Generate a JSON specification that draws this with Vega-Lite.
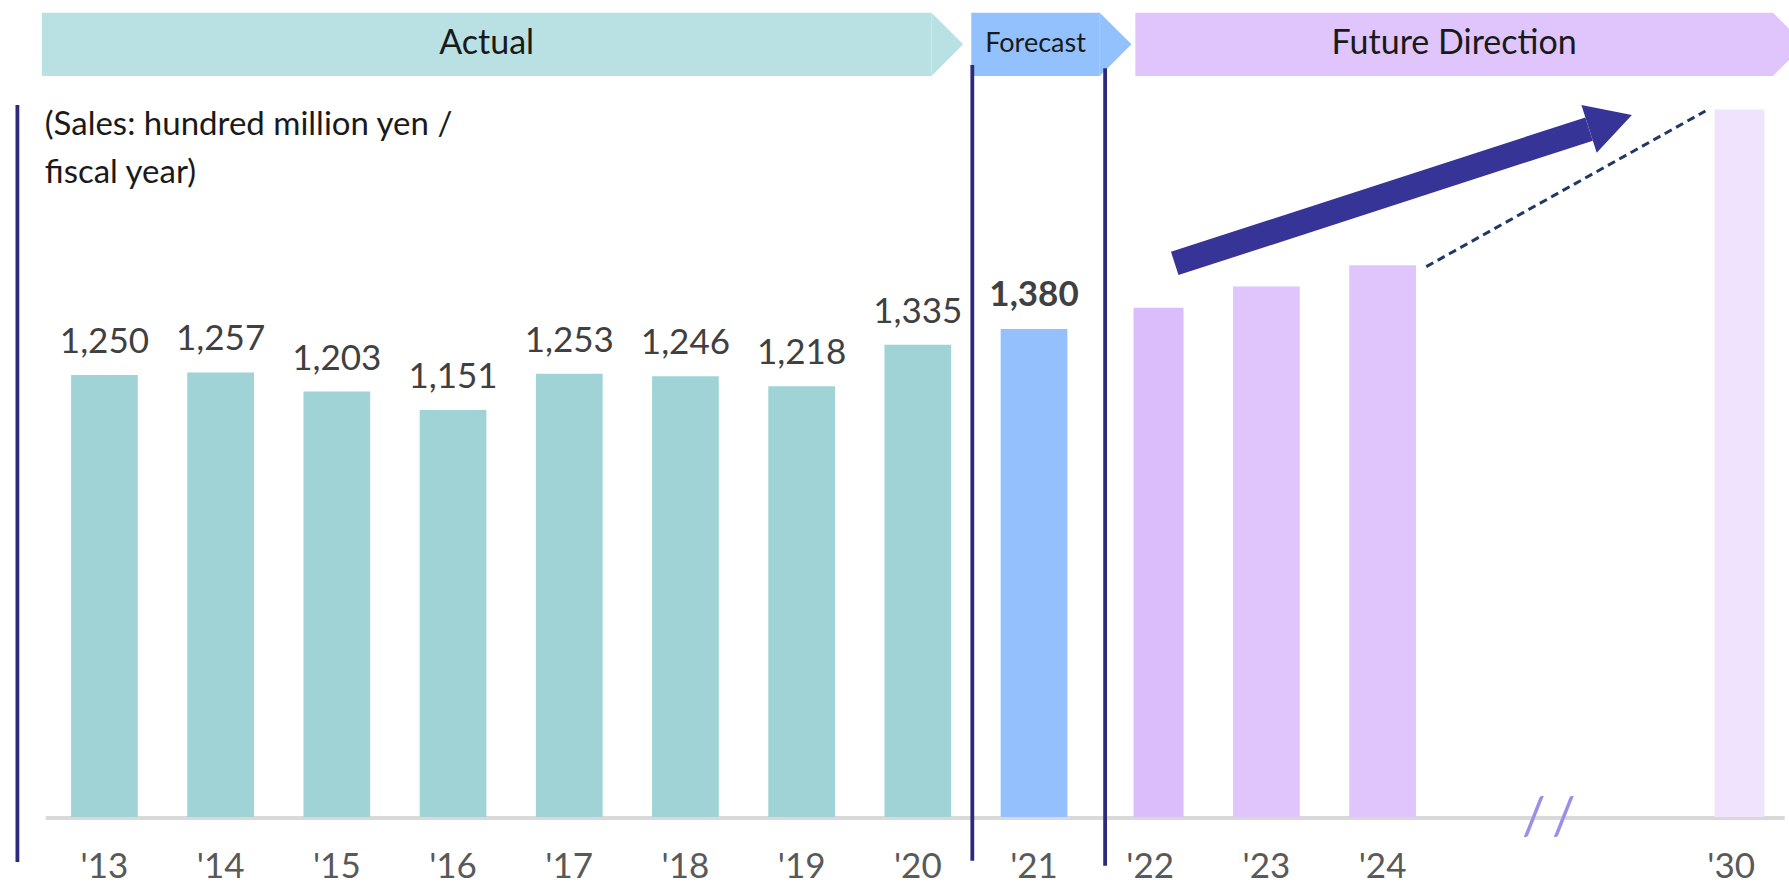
{
  "$schema": "https://vega.github.io/schema/vega-lite/v6.json",
  "width": 1789,
  "height": 890,
  "autosize": "none",
  "padding": 0,
  "background": "white",
  "config": {"view": {"stroke": null}, "font": "Lato"},
  "datasets": {
    "sales": [
      {"year": "'13", "slot": 0, "sales": 1250},
      {"year": "'14", "slot": 1, "sales": 1257},
      {"year": "'15", "slot": 2, "sales": 1203},
      {"year": "'16", "slot": 3, "sales": 1151},
      {"year": "'17", "slot": 4, "sales": 1253},
      {"year": "'18", "slot": 5, "sales": 1246},
      {"year": "'19", "slot": 6, "sales": 1218},
      {"year": "'20", "slot": 7, "sales": 1335},
      {"year": "'21", "slot": 8, "sales": 1380},
      {"year": "'22", "slot": 9, "sales": 1440},
      {"year": "'23", "slot": 10, "sales": 1500},
      {"year": "'24", "slot": 11, "sales": 1560},
      {"year": "'30", "slot": 14, "sales": 2000}
    ],
    "phases": [
      {"phase": "Actual", "from": -0.539, "to": 7.118},
      {"phase": "Forecast", "from": 7.46, "to": 8.566},
      {"phase": "Future Direction", "from": 8.872, "to": 14.36}
    ],
    "dividers": [
      {"x": -0.749, "top": 2013, "bottom": -127},
      {"x": 7.469, "top": 2126, "bottom": -124},
      {"x": 8.612, "top": 2117, "bottom": -138}
    ],
    "trend": [{"x": 9.211, "y": 1565, "xe": 12.777, "ye": 1945, "hx": 12.961, "hy": 1965}],
    "extension": [{"x": 11.376, "y": 1556, "xe": 13.778, "ye": 1996}]
  },
  "resolve": {"scale": {"color": "independent"}},
  "layer": [
    {
      "data": {"name": "phases"},
      "mark": {"type": "rect"},
      "encoding": {
        "x": {"field": "from", "type": "quantitative", "scale": {"domain": [-0.8558, 14.4544], "nice": false, "zero": false}, "axis": null},
        "x2": {"field": "to"},
        "y": {"datum": 2274, "type": "quantitative", "scale": {"domain": [-206.4, 2309.9], "nice": false, "zero": false}, "axis": null},
        "y2": {"datum": 2095},
        "color": {"field": "phase", "type": "nominal", "scale": {"domain": ["Actual", "Forecast", "Future Direction"], "range": ["#b9e0e3", "#93c1fd", "#dfc5fc"]}, "legend": null}
      }
    },
    {
      "data": {"name": "phases"},
      "mark": {"type": "point", "shape": "M0,-1L1,0L0,1Z", "filled": true, "opacity": 1, "size": 4007, "strokeWidth": 0},
      "encoding": {
        "x": {"field": "to", "type": "quantitative", "scale": {"domain": [-0.8558, 14.4544], "nice": false, "zero": false}, "axis": null},
        "y": {"datum": 2184.5, "type": "quantitative", "scale": {"domain": [-206.4, 2309.9], "nice": false, "zero": false}, "axis": null},
        "color": {"field": "phase", "type": "nominal", "scale": {"domain": ["Actual", "Forecast", "Future Direction"], "range": ["#b9e0e3", "#93c1fd", "#dfc5fc"]}, "legend": null}
      }
    },
    {
      "data": {"name": "phases"},
      "transform": [
        {"filter": "datum.phase != 'Forecast'"},
        {"fold": ["from", "to"], "as": ["edge", "pos"]},
        {"aggregate": [{"op": "mean", "field": "pos", "as": "mid"}], "groupby": ["phase"]}
      ],
      "mark": {"type": "text", "fontSize": 34, "color": "#1a1a1a", "align": "center", "baseline": "middle"},
      "encoding": {
        "x": {"field": "mid", "type": "quantitative", "scale": {"domain": [-0.8558, 14.4544], "nice": false, "zero": false}, "axis": null},
        "y": {"datum": 2184.5, "type": "quantitative", "scale": {"domain": [-206.4, 2309.9], "nice": false, "zero": false}, "axis": null},
        "text": {"field": "phase"}
      }
    },
    {
      "data": {"name": "phases"},
      "transform": [
        {"filter": "datum.phase == 'Forecast'"},
        {"fold": ["from", "to"], "as": ["edge", "pos"]},
        {"aggregate": [{"op": "mean", "field": "pos", "as": "mid"}], "groupby": ["phase"]}
      ],
      "mark": {"type": "text", "fontSize": 27, "color": "#1a1a1a", "align": "center", "baseline": "middle"},
      "encoding": {
        "x": {"field": "mid", "type": "quantitative", "scale": {"domain": [-0.8558, 14.4544], "nice": false, "zero": false}, "axis": null},
        "y": {"datum": 2184.5, "type": "quantitative", "scale": {"domain": [-206.4, 2309.9], "nice": false, "zero": false}, "axis": null},
        "text": {"field": "phase"}
      }
    },
    {
      "data": {"values": [{}]},
      "mark": {"type": "rule", "color": "#d9d9d9", "strokeWidth": 4},
      "encoding": {
        "x": {"datum": -0.505, "type": "quantitative", "scale": {"domain": [-0.8558, 14.4544], "nice": false, "zero": false}, "axis": null},
        "x2": {"datum": 14.46},
        "y": {"datum": -3, "type": "quantitative", "scale": {"domain": [-206.4, 2309.9], "nice": false, "zero": false}, "axis": null}
      }
    },
    {
      "data": {"name": "sales"},
      "transform": [{"filter": {"not": {"field": "year", "oneOf": ["'22", "'30"]}}}],
      "mark": {"type": "bar", "width": 66.7, "opacity": 1},
      "encoding": {
        "x": {"field": "slot", "type": "quantitative", "scale": {"domain": [-0.8558, 14.4544], "nice": false, "zero": false}, "axis": null},
        "y": {"field": "sales", "type": "quantitative", "scale": {"domain": [-206.4, 2309.9], "nice": false, "zero": false}, "axis": null},
        "color": {"field": "year", "type": "nominal", "scale": {"domain": ["'13", "'14", "'15", "'16", "'17", "'18", "'19", "'20", "'21", "'22", "'23", "'24", "'30"], "range": ["#9fd3d6", "#9fd3d6", "#9fd3d6", "#9fd3d6", "#9fd3d6", "#9fd3d6", "#9fd3d6", "#9fd3d6", "#94c1fd", "#d9bafb", "#e0c4fc", "#e0c4fc", "#efe3fd"]}, "legend": null}
      }
    },
    {
      "data": {"name": "sales"},
      "transform": [{"filter": {"field": "year", "oneOf": ["'22", "'30"]}}],
      "mark": {"type": "bar", "width": 50, "xOffset": 8.3, "opacity": 1},
      "encoding": {
        "x": {"field": "slot", "type": "quantitative", "scale": {"domain": [-0.8558, 14.4544], "nice": false, "zero": false}, "axis": null},
        "y": {"field": "sales", "type": "quantitative", "scale": {"domain": [-206.4, 2309.9], "nice": false, "zero": false}, "axis": null},
        "color": {"field": "year", "type": "nominal", "scale": {"domain": ["'22", "'30"], "range": ["#dbbdfb", "#efe3fd"]}, "legend": null}
      }
    },
    {
      "data": {"name": "sales"},
      "transform": [{"filter": {"field": "slot", "lte": 7}}],
      "mark": {"type": "text", "fontSize": 35, "color": "#404040", "align": "center", "baseline": "alphabetic", "dy": -22},
      "encoding": {
        "x": {"field": "slot", "type": "quantitative", "scale": {"domain": [-0.8558, 14.4544], "nice": false, "zero": false}, "axis": null},
        "y": {"field": "sales", "type": "quantitative", "scale": {"domain": [-206.4, 2309.9], "nice": false, "zero": false}, "axis": null},
        "text": {"field": "sales", "type": "quantitative", "format": ","}
      }
    },
    {
      "data": {"name": "sales"},
      "transform": [{"filter": {"field": "slot", "equal": 8}}],
      "mark": {"type": "text", "fontSize": 35, "fontWeight": "bold", "color": "#404040", "align": "center", "baseline": "alphabetic", "dy": -23},
      "encoding": {
        "x": {"field": "slot", "type": "quantitative", "scale": {"domain": [-0.8558, 14.4544], "nice": false, "zero": false}, "axis": null},
        "y": {"field": "sales", "type": "quantitative", "scale": {"domain": [-206.4, 2309.9], "nice": false, "zero": false}, "axis": null},
        "text": {"field": "sales", "type": "quantitative", "format": ","}
      }
    },
    {
      "data": {"name": "sales"},
      "mark": {"type": "text", "fontSize": 35, "color": "#595959", "align": "center", "baseline": "alphabetic", "dy": 61},
      "encoding": {
        "x": {"field": "slot", "type": "quantitative", "scale": {"domain": [-0.8558, 14.4544], "nice": false, "zero": false}, "axis": null},
        "y": {"datum": 0, "type": "quantitative", "scale": {"domain": [-206.4, 2309.9], "nice": false, "zero": false}, "axis": null},
        "text": {"field": "year"}
      }
    },
    {
      "data": {"name": "dividers"},
      "mark": {"type": "rule", "color": "#2b2a7b", "strokeWidth": 3.8},
      "encoding": {
        "x": {"field": "x", "type": "quantitative", "scale": {"domain": [-0.8558, 14.4544], "nice": false, "zero": false}, "axis": null},
        "y": {"field": "top", "type": "quantitative", "scale": {"domain": [-206.4, 2309.9], "nice": false, "zero": false}, "axis": null},
        "y2": {"field": "bottom"}
      }
    },
    {
      "data": {"name": "trend"},
      "mark": {"type": "rule", "color": "#363597", "strokeWidth": 24.4, "strokeCap": "butt"},
      "encoding": {
        "x": {"field": "x", "type": "quantitative", "scale": {"domain": [-0.8558, 14.4544], "nice": false, "zero": false}, "axis": null},
        "y": {"field": "y", "type": "quantitative", "scale": {"domain": [-206.4, 2309.9], "nice": false, "zero": false}, "axis": null},
        "x2": {"field": "xe"},
        "y2": {"field": "ye"}
      }
    },
    {
      "data": {"name": "trend"},
      "mark": {"type": "point", "shape": "M-0.9,-1L0.9,0L-0.9,1Z", "filled": true, "opacity": 1, "size": 2500, "angle": -17.86, "color": "#363597", "strokeWidth": 0},
      "encoding": {
        "x": {"field": "hx", "type": "quantitative", "scale": {"domain": [-0.8558, 14.4544], "nice": false, "zero": false}, "axis": null},
        "y": {"field": "hy", "type": "quantitative", "scale": {"domain": [-206.4, 2309.9], "nice": false, "zero": false}, "axis": null}
      }
    },
    {
      "data": {"name": "extension"},
      "mark": {"type": "rule", "color": "#1f3864", "strokeWidth": 3, "strokeDash": [8, 5]},
      "encoding": {
        "x": {"field": "x", "type": "quantitative", "scale": {"domain": [-0.8558, 14.4544], "nice": false, "zero": false}, "axis": null},
        "y": {"field": "y", "type": "quantitative", "scale": {"domain": [-206.4, 2309.9], "nice": false, "zero": false}, "axis": null},
        "x2": {"field": "xe"},
        "y2": {"field": "ye"}
      }
    },
    {
      "data": {"values": [{}]},
      "mark": {"type": "text", "text": "/\u2009/", "fontSize": 52, "color": "#9a90e8", "align": "center", "baseline": "middle"},
      "encoding": {
        "x": {"datum": 12.43, "type": "quantitative", "scale": {"domain": [-0.8558, 14.4544], "nice": false, "zero": false}, "axis": null},
        "y": {"datum": -3, "type": "quantitative", "scale": {"domain": [-206.4, 2309.9], "nice": false, "zero": false}, "axis": null}
      }
    },
    {
      "data": {"values": [{}]},
      "mark": {"type": "text", "text": ["(Sales: hundred million yen /", "fiscal year)"], "fontSize": 33, "lineHeight": 48, "color": "#1a1a1a", "align": "left", "baseline": "alphabetic"},
      "encoding": {
        "x": {"datum": -0.5135, "type": "quantitative", "scale": {"domain": [-0.8558, 14.4544], "nice": false, "zero": false}, "axis": null},
        "y": {"datum": 1928, "type": "quantitative", "scale": {"domain": [-206.4, 2309.9], "nice": false, "zero": false}, "axis": null}
      }
    }
  ]
}
